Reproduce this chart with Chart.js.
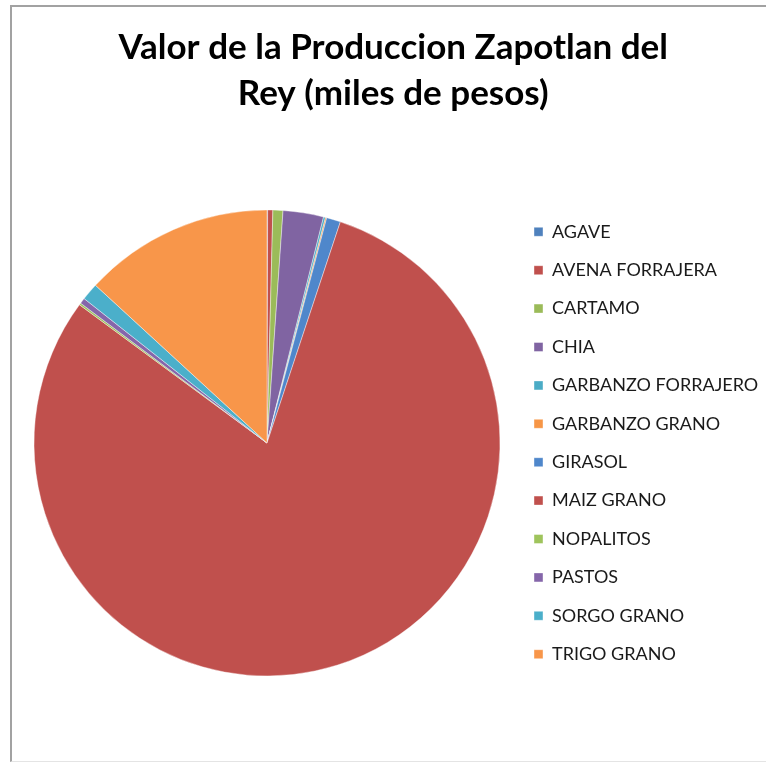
<!DOCTYPE html>
<html>
<head>
<meta charset="utf-8">
<script src="https://cdn.jsdelivr.net/npm/chart.js@4.4.1/dist/chart.umd.min.js"></script>
<style>
  html, body { margin: 0; padding: 0; background: #ffffff; overflow: hidden; width: 766px; height: 764px; }
  #frame { position: absolute; left: 10px; top: 5px; width: 800px; height: 757px; box-sizing: border-box;
           border-left: 2px solid #a2a2a2; border-top: 2px solid #a2a2a2; border-bottom: 1px solid #e4e4e4; }
  #c { position: absolute; left: 0; top: 0; }
</style>
</head>
<body>
<div id="frame"></div>
<canvas id="c" width="766" height="764"></canvas>
<script>
// ---- data (valor de la produccion, miles de pesos) ----
const titleLines = ['Valor de la Produccion Zapotlan del', 'Rey (miles de pesos)'];
const categories = ['AGAVE', 'AVENA FORRAJERA', 'CARTAMO', 'CHIA', 'GARBANZO FORRAJERO',
                    'GARBANZO GRANO', 'GIRASOL', 'MAIZ GRANO', 'NOPALITOS', 'PASTOS',
                    'SORGO GRANO', 'TRIGO GRANO'];
const values = [105, 910, 1750, 7070, 350, 210, 2450, 201600, 350, 980, 3010, 33180];
const sliceColors = ['#4F81BD', '#C0504D', '#9BBB59', '#8064A2', '#4BACC6', '#F79646',
                     '#4F87CB', '#C0504D', '#9FC45C', '#8566AA', '#4BAFCA', '#F8964A'];

// ---- layout helpers ----
const legendFont = 18;
const rowGap = 38.4;                  // distance between legend rows
const legPad = rowGap - legendFont;   // Chart.js label padding
const legendItemX = 534;              // left edge of legend swatches
const pieRadius = 233;

new Chart(document.getElementById('c'), {
  type: 'pie',
  data: {
    labels: categories,
    datasets: [{
      data: values,
      backgroundColor: sliceColors,
      borderColor: '#ffffff',
      borderWidth: 0.4,
      hoverOffset: 0
    }]
  },
  options: {
    responsive: false,
    animation: false,
    radius: pieRadius,
    layout: { padding: { left: legPad, right: 0, top: 0, bottom: 70 } },
    plugins: {
      tooltip: { enabled: false },
      title: {
        display: true,
        text: titleLines,
        color: '#000000',
        font: { family: 'Lato', weight: 'bold', size: 35, lineHeight: 1.3 },
        padding: { top: 25, bottom: 76 }
      },
      legend: {
        position: 'right',
        align: 'center',
        fullSize: false,
        maxWidth: 766 - (legendItemX - legPad),
        labels: {
          boxWidth: 9,
          boxHeight: 9,
          padding: legPad,
          color: '#1a1a1a',
          font: { family: 'Lato', size: legendFont }
        }
      }
    }
  }
});
</script>
</body>
</html>
